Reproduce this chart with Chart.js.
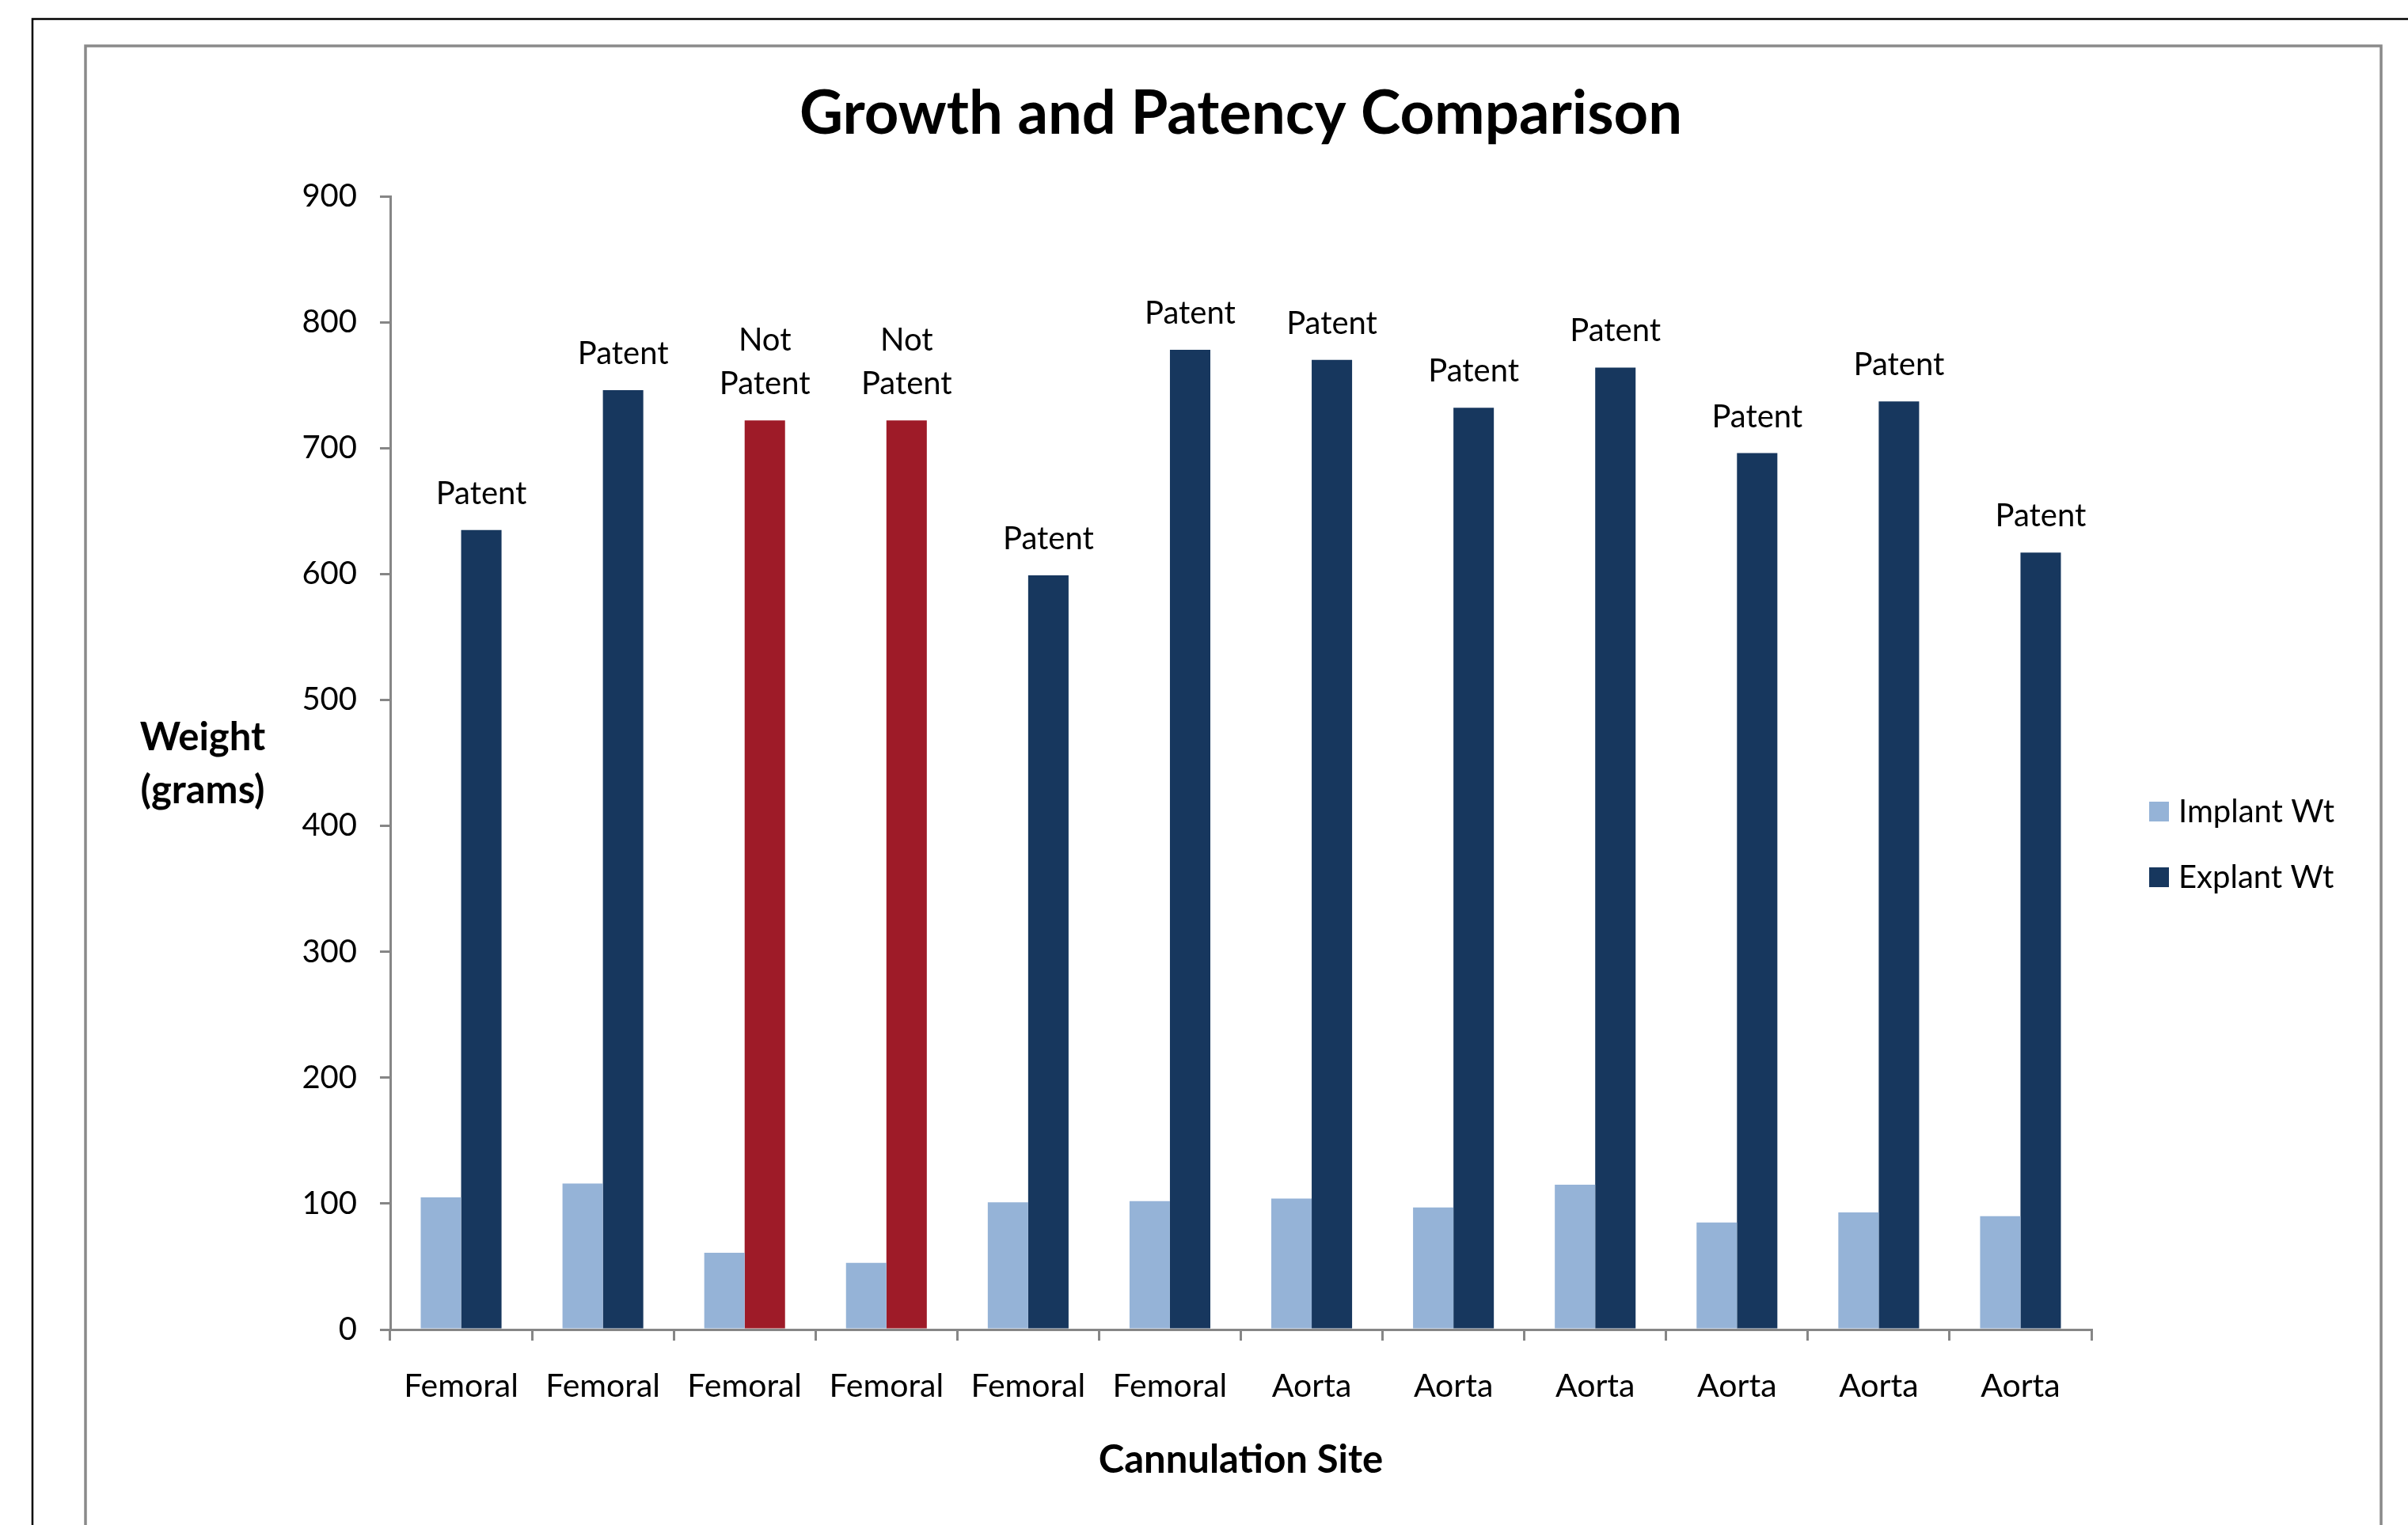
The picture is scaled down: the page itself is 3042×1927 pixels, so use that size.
<!DOCTYPE html>
<html>
<head>
<meta charset="utf-8">
<title>Growth and Patency Comparison</title>
<script src="https://cdn.jsdelivr.net/npm/chart.js@4/dist/chart.umd.min.js"></script>
<style>
  html, body { margin: 0; padding: 0; background: #ffffff; }
  canvas { display: block; }
</style>
</head>
<body>
<canvas id="chart" width="3042" height="1927"></canvas>
<script>
// Cannulation site of each animal
const categories = ['Femoral', 'Femoral', 'Femoral', 'Femoral', 'Femoral', 'Femoral',
                    'Aorta', 'Aorta', 'Aorta', 'Aorta', 'Aorta', 'Aorta'];
// Weight at implant (grams)
const implantWt = [105, 116, 61, 53, 101, 102, 104, 97, 115, 85, 93, 90];
// Weight at explant (grams)
const explantWt = [635, 746, 722, 722, 599, 778, 770, 732, 764, 696, 737, 617];
// Graft status at explant
const patency = ['Patent', 'Patent', 'Not Patent', 'Not Patent', 'Patent', 'Patent',
                 'Patent', 'Patent', 'Patent', 'Patent', 'Patent', 'Patent'];
const seriesNames = ['Implant Wt', 'Explant Wt'];
const yTicks = { min: 0, max: 900, step: 100 };

const implantColor = '#95B3D7';
const explantColor = '#17375E';
const notPatentColor = '#9E1B28';
const axisColor = '#868686';
const FONT = 'Lato';

// Page frame: outer black rule and gray chart border
const framePlugin = {
  id: 'frame',
  beforeDraw(chart) {
    const ctx = chart.ctx;
    const W = chart.width, H = chart.height;
    ctx.save();
    ctx.fillStyle = '#ffffff';
    ctx.fillRect(0, 0, W, H);
    ctx.strokeStyle = '#000000';
    ctx.lineWidth = 2.5;
    ctx.beginPath();
    ctx.moveTo(W + 5, 24);
    ctx.lineTo(41, 24);
    ctx.lineTo(41, H + 5);
    ctx.stroke();
    ctx.strokeStyle = '#8a8a8a';
    ctx.lineWidth = 3.5;
    ctx.beginPath();
    ctx.moveTo(108, H + 5);
    ctx.lineTo(108, 58);
    ctx.lineTo(3008, 58);
    ctx.lineTo(3008, H + 5);
    ctx.stroke();
    ctx.restore();
  }
};

// Patency labels above each explant bar
const patencyLabels = {
  id: 'patencyLabels',
  afterDatasetsDraw(chart) {
    const ctx = chart.ctx;
    const meta = chart.getDatasetMeta(1);
    ctx.save();
    ctx.font = `40px ${FONT}`;
    ctx.fillStyle = '#000000';
    ctx.textAlign = 'center';
    ctx.textBaseline = 'alphabetic';
    meta.data.forEach((bar, i) => {
      const lines = patency[i].split(' ');
      const base = bar.y - 33;
      lines.forEach((line, j) => {
        ctx.fillText(line, bar.x, base - (lines.length - 1 - j) * 55);
      });
    });
    ctx.restore();
  }
};

// Horizontal two-line y-axis title and the series key on the right
const sideText = {
  id: 'sideText',
  afterDraw(chart) {
    const ctx = chart.ctx;
    const area = chart.chartArea;
    ctx.save();
    ctx.fillStyle = '#000000';
    ctx.font = `bold 49px ${FONT}`;
    ctx.textAlign = 'center';
    ctx.textBaseline = 'alphabetic';
    const mid = (area.top + area.bottom) / 2;
    ctx.fillText('Weight', 256, mid - 16);
    ctx.fillText('(grams)', 256, mid + 51);

    const swatches = [implantColor, explantColor];
    ctx.font = `40px ${FONT}`;
    ctx.textAlign = 'left';
    chart.data.datasets.forEach((ds, i) => {
      const top = 1013 + i * 83;
      ctx.fillStyle = swatches[i];
      ctx.fillRect(2715, top, 25, 25);
      ctx.fillStyle = '#000000';
      ctx.fillText(ds.label, 2752, top + 26);
    });
    ctx.restore();
  }
};

new Chart(document.getElementById('chart'), {
  type: 'bar',
  data: {
    labels: categories,
    datasets: [
      {
        label: seriesNames[0],
        data: implantWt,
        backgroundColor: implantColor,
        borderWidth: 0
      },
      {
        label: seriesNames[1],
        data: explantWt,
        backgroundColor: patency.map(p => p === 'Patent' ? explantColor : notPatentColor),
        borderWidth: 0
      }
    ]
  },
  options: {
    responsive: false,
    animation: false,
    devicePixelRatio: 1,
    categoryPercentage: 0.57,
    barPercentage: 1.0,
    layout: { padding: { left: 0, right: 400, top: 0, bottom: 0 } },
    plugins: {
      legend: { display: false },
      tooltip: { enabled: false },
      title: {
        display: true,
        fullSize: false,
        align: 'center',
        text: 'Growth and Patency Comparison',
        color: '#000000',
        font: { family: FONT, size: 76, weight: 'bold', lineHeight: 1 },
        padding: { top: 106, bottom: 66 }
      }
    },
    scales: {
      x: {
        afterFit(scale) { scale.height = 247; },
        grid: {
          offset: true,
          drawOnChartArea: false,
          drawTicks: true,
          tickLength: 14,
          color: axisColor,
          lineWidth: 3
        },
        border: { color: axisColor, width: 3 },
        ticks: {
          color: '#000000',
          font: { family: FONT, size: 41 },
          padding: 33,
          maxRotation: 0,
          autoSkip: false
        },
        title: {
          display: true,
          text: 'Cannulation Site',
          color: '#000000',
          font: { family: FONT, size: 49, weight: 'bold' },
          padding: { top: 0, bottom: 52 }
        }
      },
      y: {
        min: yTicks.min,
        max: yTicks.max,
        afterFit(scale) { scale.width = 493; },
        grid: {
          drawOnChartArea: false,
          drawTicks: true,
          tickLength: 13,
          color: axisColor,
          lineWidth: 3
        },
        border: { color: axisColor, width: 3 },
        ticks: {
          stepSize: yTicks.step,
          color: '#000000',
          font: { family: FONT, size: 40 },
          padding: 29
        }
      }
    }
  },
  plugins: [framePlugin, patencyLabels, sideText]
});
</script>
</body>
</html>
